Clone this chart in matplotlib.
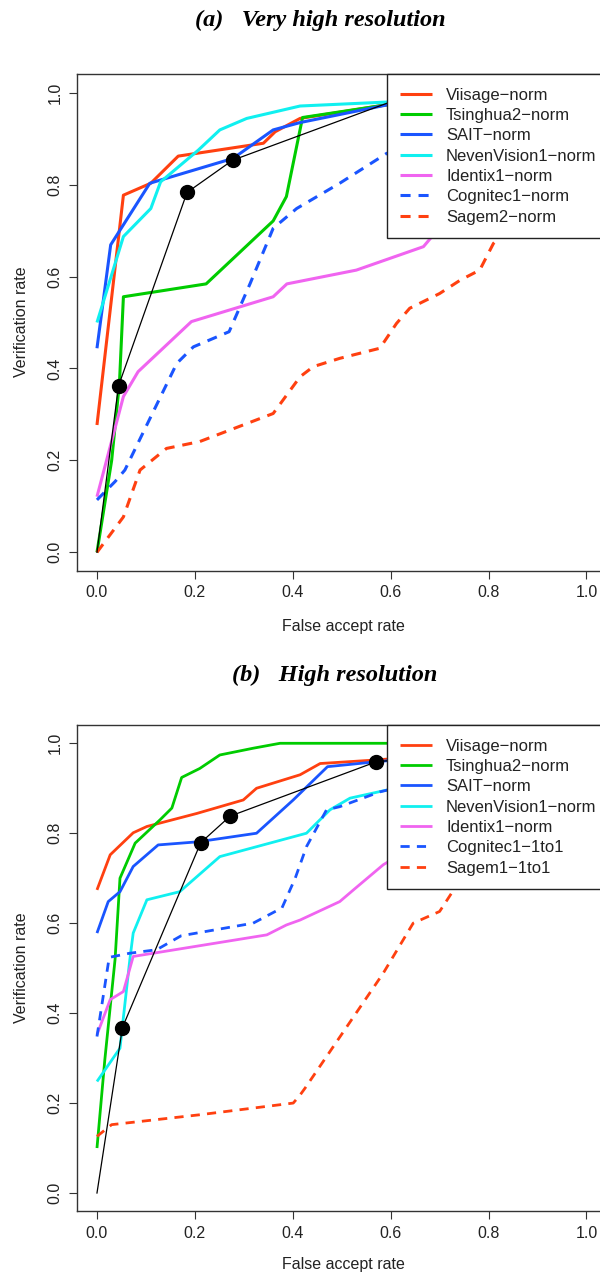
import matplotlib.pyplot as plt

plt.rcParams['font.family'] = ['Liberation Sans', 'DejaVu Sans']

# ---- panel (a): very high resolution ----
a_names = ["Viisage-norm", "Tsinghua2-norm", "SAIT-norm", "NevenVision1-norm",
           "Identix1-norm", "Cognitec1-norm", "Sagem2-norm"]
a_viisage_x = [0, 0.054, 0.11, 0.166, 0.34, 0.364, 0.415, 0.6, 1.0]
a_viisage_y = [0.277, 0.777, 0.803, 0.862, 0.89, 0.915, 0.944, 0.975, 1.0]
a_tsinghua_x = [0, 0.03, 0.046, 0.054, 0.223, 0.36, 0.387, 0.42, 0.6, 1.0]
a_tsinghua_y = [0, 0.2, 0.37, 0.556, 0.584, 0.721, 0.774, 0.946, 0.975, 1.0]
a_sait_x = [0, 0.028, 0.108, 0.278, 0.36, 0.415, 0.6, 1.0]
a_sait_y = [0.444, 0.669, 0.803, 0.857, 0.919, 0.935, 0.975, 1.0]
a_neven_x = [0, 0.054, 0.11, 0.13, 0.207, 0.251, 0.306, 0.415, 0.6, 1.0]
a_neven_y = [0.5, 0.687, 0.748, 0.806, 0.875, 0.919, 0.944, 0.971, 0.98, 1.0]
a_identix_x = [0, 0.054, 0.084, 0.193, 0.36, 0.388, 0.53, 0.667, 0.69, 1.0]
a_identix_y = [0.121, 0.339, 0.393, 0.502, 0.556, 0.584, 0.614, 0.665, 0.694, 1.0]
a_cognitec_x = [0, 0.037, 0.057, 0.163, 0.197, 0.27, 0.313, 0.36, 0.408, 0.496, 0.592, 1.0]
a_cognitec_y = [0.114, 0.154, 0.179, 0.411, 0.447, 0.48, 0.585, 0.705, 0.748, 0.803, 0.868, 1.0]
a_sagem_x = [0, 0.054, 0.088, 0.142, 0.21, 0.36, 0.415, 0.442, 0.496, 0.578, 0.612,
             0.639, 0.70, 0.742, 0.782, 0.81, 0.827, 1.0]
a_sagem_y = [0, 0.077, 0.179, 0.226, 0.241, 0.302, 0.382, 0.404, 0.422, 0.444, 0.498,
             0.531, 0.563, 0.592, 0.614, 0.672, 0.69, 1.0]
a_black_x = [0, 0.044, 0.184, 0.277, 0.6, 1.0]
a_black_y = [0, 0.362, 0.783, 0.853, 0.98, 1.0]
a_dots = [1, 2, 3]

# ---- panel (b): high resolution ----
b_names = ["Viisage-norm", "Tsinghua2-norm", "SAIT-norm", "NevenVision1-norm",
           "Identix1-norm", "Cognitec1-1to1", "Sagem1-1to1"]
b_viisage_x = [0, 0.027, 0.074, 0.102, 0.204, 0.299, 0.326, 0.415, 0.456, 0.571, 1.0]
b_viisage_y = [0.674, 0.752, 0.801, 0.815, 0.844, 0.874, 0.9, 0.93, 0.955, 0.963, 1.0]
b_tsinghua_x = [0, 0.016, 0.037, 0.047, 0.078, 0.129, 0.153, 0.173, 0.21, 0.251, 0.319, 0.374, 1.0]
b_tsinghua_y = [0.1, 0.296, 0.52, 0.7, 0.778, 0.83, 0.856, 0.924, 0.944, 0.974, 0.989, 1.0, 1.0]
b_sait_x = [0, 0.023, 0.047, 0.074, 0.125, 0.207, 0.326, 0.401, 0.471, 0.571, 1.0]
b_sait_y = [0.578, 0.648, 0.67, 0.726, 0.774, 0.781, 0.8, 0.874, 0.948, 0.959, 1.0]
b_neven_x = [0, 0.047, 0.067, 0.074, 0.102, 0.169, 0.251, 0.428, 0.476, 0.517, 0.592, 1.0]
b_neven_y = [0.248, 0.322, 0.518, 0.578, 0.652, 0.67, 0.748, 0.8, 0.852, 0.878, 0.896, 1.0]
b_identix_x = [0, 0.027, 0.054, 0.074, 0.347, 0.387, 0.415, 0.496, 0.524, 0.585, 1.0]
b_identix_y = [0.352, 0.43, 0.448, 0.526, 0.574, 0.596, 0.607, 0.648, 0.674, 0.73, 1.0]
b_cognitec_x = [0, 0.025, 0.066, 0.122, 0.172, 0.319, 0.378, 0.405, 0.428, 0.469, 0.496, 0.578, 1.0]
b_cognitec_y = [0.348, 0.524, 0.533, 0.541, 0.572, 0.6, 0.634, 0.7, 0.77, 0.852, 0.859, 0.892, 1.0]
b_sagem_x = [0, 0.03, 0.21, 0.401, 0.415, 0.425, 0.585, 0.646, 0.70, 0.742, 1.0]
b_sagem_y = [0.126, 0.152, 0.174, 0.2, 0.218, 0.233, 0.489, 0.6, 0.626, 0.696, 1.0]
b_black_x = [0, 0.052, 0.212, 0.272, 0.571, 1.0]
b_black_y = [0, 0.368, 0.779, 0.838, 0.959, 1.0]
b_dots = [1, 2, 3, 4]

colors = ['#FF4010', '#00CC00', '#1A55FF', '#10F0F0', '#F064F0', '#1A55FF', '#FF4010']
dashed = [False, False, False, False, False, True, True]
ticks = [0, 0.2, 0.4, 0.6, 0.8, 1.0]

W, H = 600.0, 1276.0
fig = plt.figure(figsize=(6, 12.76), dpi=100)


def make_panel(px_top, px_bottom, xs, ys, names, bx, by, dots, lw):
    # axes box in pixels: left 77.4, right 606 (runs past the page edge)
    ax = fig.add_axes([77.4 / W, 1 - px_bottom / H, (606 - 77.4) / W, (px_bottom - px_top) / H])
    for x, y, name, c, d in zip(xs, ys, names, colors, dashed):
        if d:
            ax.plot(x, y, color=c, lw=lw, dashes=(3.3, 2.6), label=name.replace('-', '\u2212'))
        else:
            ax.plot(x, y, color=c, lw=lw, solid_capstyle='butt', label=name.replace('-', '\u2212'))
    ax.plot(bx, by, color='black', lw=0.9)
    ax.plot([bx[i] for i in dots], [by[i] for i in dots], 'o', color='black', ms=10)
    ax.set_xlim(-0.04, 1.04)
    ax.set_ylim(-0.04, 1.04)
    ax.set_xticks(ticks)
    ax.set_yticks(ticks)
    ax.set_xticklabels(['%.1f' % t for t in ticks])
    ax.set_yticklabels(['%.1f' % t for t in ticks], rotation=90, va='center')
    ax.tick_params(direction='out', length=5.5, width=0.8, color='#333333',
                   labelsize=11.5, labelcolor='#222222', pad=5)
    for s in ax.spines.values():
        s.set_linewidth(1.0)
        s.set_color('#333333')
    leg = ax.legend(loc='upper left', bbox_to_anchor=((387 - 97) / 489.5, 1.04),
                    bbox_transform=ax.transData, borderaxespad=0, fontsize=12,
                    fancybox=False, framealpha=1, edgecolor='#222222',
                    handlelength=1.9, handletextpad=0.85, borderpad=0.8,
                    labelspacing=0.32)
    leg.get_frame().set_linewidth(1.0)
    for t in leg.get_texts():
        t.set_color('#222222')
    return ax


make_panel(74.3, 570.7,
           [a_viisage_x, a_tsinghua_x, a_sait_x, a_neven_x, a_identix_x, a_cognitec_x, a_sagem_x],
           [a_viisage_y, a_tsinghua_y, a_sait_y, a_neven_y, a_identix_y, a_cognitec_y, a_sagem_y],
           a_names, a_black_x, a_black_y, a_dots, 2.2)
make_panel(725.3, 1211.0,
           [b_viisage_x, b_tsinghua_x, b_sait_x, b_neven_x, b_identix_x, b_cognitec_x, b_sagem_x],
           [b_viisage_y, b_tsinghua_y, b_sait_y, b_neven_y, b_identix_y, b_cognitec_y, b_sagem_y],
           b_names, b_black_x, b_black_y, b_dots, 2.0)

title_font = dict(family='Liberation Serif', weight='bold', style='italic', size=17.5,
                  ha='center', va='center')
fig.text(320 / W, 1 - 20 / H, '(a)   Very high resolution', **title_font)
fig.text(335 / W, 1 - 675 / H, '(b)   High resolution', **title_font)

for yc, xl in [(322, 626), (968, 1264)]:
    fig.text(21 / W, 1 - yc / H, 'Verification rate', rotation=90, ha='center', va='center',
             size=11.5, color='#222222')
    fig.text(343 / W, 1 - xl / H, 'False accept rate', ha='center', va='center',
             size=11.5, color='#222222')

fig.savefig('out.png', dpi=100)
